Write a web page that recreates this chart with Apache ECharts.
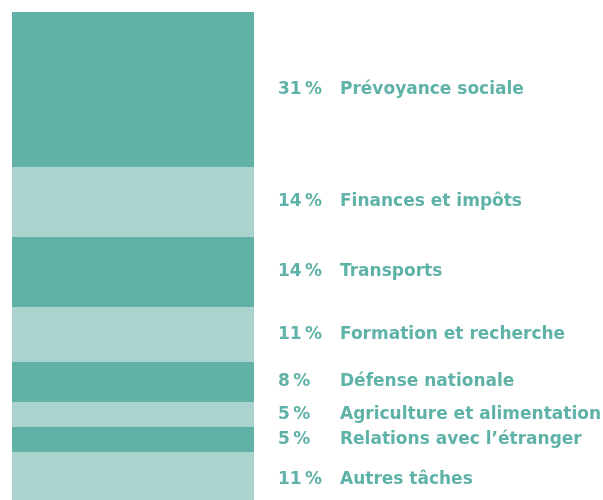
<!DOCTYPE html>
<html>
<head>
<meta charset="utf-8">
<script src="https://cdn.jsdelivr.net/npm/echarts@6/dist/echarts.min.js"></script>
<style>
  html, body { margin: 0; padding: 0; background: #ffffff; }
  #chart { width: 603px; height: 500px; }
</style>
</head>
<body>
<div id="chart"></div>
<script>
// Federal expenditure shares by task, stacked top to bottom
const categories = [
  'Prévoyance sociale',
  'Finances et impôts',
  'Transports',
  'Formation et recherche',
  'Défense nationale',
  'Agriculture et alimentation',
  'Relations avec l\u2019étranger',
  'Autres tâches'
];
const shares = [31, 14, 14, 11, 8, 5, 5, 11];

const darkTeal = '#62b1a7';
const lightTeal = '#aad3cd';
const textTeal = '#5fb2a7';
const font = { fontFamily: 'DejaVu Sans', fontWeight: 'bold', fontSize: 17, color: textTeal };

const series = categories.map((name, i) => ({
  name: name,
  type: 'bar',
  stack: 'total',
  barWidth: '100%',
  clip: false,
  data: [shares[i]],
  itemStyle: { color: i % 2 === 0 ? darkTeal : lightTeal },
  label: {
    show: true,
    position: 'right',
    distance: 24,
    formatter: () => '{p|' + shares[i] + '\u202F%}{n|' + name + '}',
    rich: {
      p: Object.assign({ width: 62 }, font),
      n: Object.assign({}, font)
    }
  },
  emphasis: { disabled: true }
}));

const chart = echarts.init(document.getElementById('chart'));
// The stack runs past the bottom edge: 488 px of plot cover 97.6 points (5 px per point)
chart.setOption({
  animation: false,
  grid: { left: 12, top: 12, width: 242, height: 488 },
  xAxis: { type: 'category', data: [''], show: false },
  yAxis: { type: 'value', min: 0, max: 97.6, inverse: true, show: false },
  series: series
});
</script>
</body>
</html>
